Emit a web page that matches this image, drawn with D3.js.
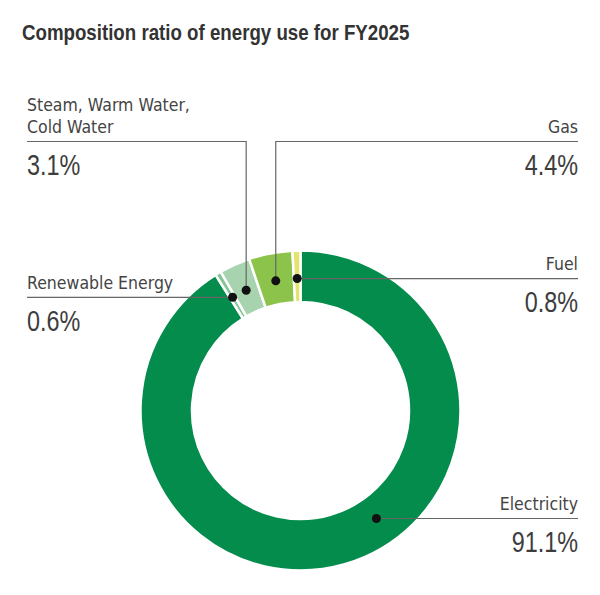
<!DOCTYPE html>
<html>
<head>
<meta charset="utf-8">
<script src="https://cdn.jsdelivr.net/npm/d3@7"></script>
<style>
  html, body { margin: 0; padding: 0; background: #fff; }
  svg { display: block; }
  .title { font-family: "Liberation Sans", Arial, sans-serif; font-weight: bold; font-size: 22px; fill: #333; }
  .name  { font-family: "DejaVu Sans Condensed", "DejaVu Sans", sans-serif; font-size: 17.5px; fill: #444; }
  .value { font-family: "Liberation Sans", Arial, sans-serif; font-size: 30px; fill: #3d3d3d; }
  .leader { stroke: #666; stroke-width: 1.2; fill: none; }
</style>
</head>
<body>
<svg id="chart" width="600" height="595" viewBox="0 0 600 595"></svg>
<script>
// energy use composition, FY2025 (%), drawn clockwise from 12 o'clock
var categories = ["Electricity", "Renewable Energy", "Steam, Warm Water, Cold Water", "Gas", "Fuel"];
var values     = [91.1, 0.6, 3.1, 4.4, 0.8];
var nameLines  = [["Electricity"], ["Renewable Energy"], ["Steam, Warm Water,", "Cold Water"], ["Gas"], ["Fuel"]];
var valueText  = ["91.1%", "0.6%", "3.1%", "4.4%", "0.8%"];
var colors     = ["#048c4c", "#86c595", "#a7d4ae", "#8cc34b", "#e2e46c"];

// label layout: which side, and how the leader runs
//   "flat"  -> horizontal line at the dot's height
//   "elbow" -> up from the dot, then across at lineY
//   "ring"  -> horizontal line at lineY, dot slides onto the ring there
var layout = [
  { side: "right", kind: "ring",  lineY: 518.5 },
  { side: "left",  kind: "flat" },
  { side: "left",  kind: "elbow", lineY: 141.5 },
  { side: "right", kind: "elbow", lineY: 141.5 },
  { side: "right", kind: "flat" }
];

(function () {
  var svg = d3.select("#chart");
  var cx = 300.5, cy = 410.5, R = 160, r = 108.5, rDot = 132;
  var xLeft = 27, xRight = 578;

  // the original uses a condensed face; squeeze a regular one horizontally
  function squeezed(sel, cls, x, y, k, anchor, txt) {
    return sel.append("text").attr("class", cls).attr("text-anchor", anchor || "start")
      .attr("transform", "translate(" + x + "," + y + ") scale(" + k + ",1)").text(txt);
  }

  squeezed(svg, "title", 22, 40, 0.85, "start", "Composition ratio of energy use for FY2025");

  var items = categories.map(function (c, i) {
    return { name: c, value: values[i], lines: nameLines[i], pct: valueText[i], color: colors[i], lay: layout[i] };
  });

  var pie = d3.pie().value(function (d) { return d.value; }).sort(null);
  var arc = d3.arc().innerRadius(r).outerRadius(R);
  var dotArc = d3.arc().innerRadius(rDot).outerRadius(rDot);
  var arcs = pie(items);

  var g = svg.append("g").attr("transform", "translate(" + cx + "," + cy + ")");
  g.selectAll("path").data(arcs).join("path")
    .attr("d", arc)
    .attr("fill", function (d) { return d.data.color; })
    .attr("stroke", "#fff").attr("stroke-width", 2.5);

  var gl = svg.append("g");
  arcs.forEach(function (a) {
    var d = a.data, lay = d.lay;
    var c = dotArc.centroid(a);
    var dx = cx + c[0], dy = cy + c[1];
    var lineY, pts;
    var xEnd = lay.side === "left" ? xLeft : xRight;
    if (lay.kind === "ring") {
      lineY = lay.lineY;
      var off = lineY - cy;
      dx = cx + Math.sqrt(rDot * rDot - off * off);
      dy = lineY;
      pts = [[dx, dy], [xEnd, lineY]];
    } else if (lay.kind === "elbow") {
      lineY = lay.lineY;
      pts = [[dx, dy], [dx, lineY], [xEnd, lineY]];
    } else {
      lineY = dy;
      pts = [[dx, dy], [xEnd, lineY]];
    }
    gl.append("path").attr("class", "leader").attr("d", d3.line()(pts));
    gl.append("circle").attr("cx", dx).attr("cy", dy).attr("r", 4.5).attr("fill", "#111");

    var anchor = lay.side === "left" ? "start" : "end";
    var n = d.lines.length;
    d.lines.forEach(function (t, k) {
      gl.append("text").attr("class", "name").attr("text-anchor", anchor)
        .attr("x", xEnd).attr("y", lineY - 8.5 - (n - 1 - k) * 22).text(t);
    });
    squeezed(gl, "value", xEnd, lineY + 33.5, 0.78, anchor, d.pct);
  });
})();
</script>
</body>
</html>
